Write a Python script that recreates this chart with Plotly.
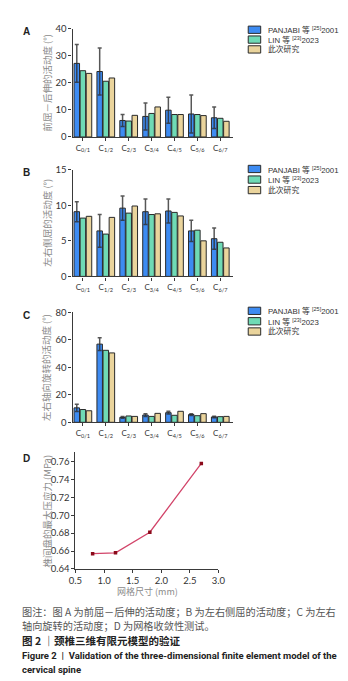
import plotly.graph_objects as go

W, H = 348, 681

segments = ["C<sub>0/1</sub>", "C<sub>1/2</sub>", "C<sub>2/3</sub>", "C<sub>3/4</sub>",
            "C<sub>4/5</sub>", "C<sub>5/6</sub>", "C<sub>6/7</sub>"]
series_names = ["PANJABI 等 <sup>[25]</sup>2001", "LIN 等 <sup>[23]</sup>2023", "此次研究"]
series_colors = ["#3d8bf2", "#6fdab5", "#ead49c"]

# Panel A: flexion-extension
a_panjabi = [27.2, 24.2, 6.1, 7.6, 9.9, 8.5, 7.1]
a_panjabi_err = [7.0, 8.7, 2.2, 5.0, 4.8, 7.0, 4.0]
a_lin = [24.5, 20.6, 5.9, 8.7, 8.3, 8.3, 6.9]
a_this = [23.5, 21.8, 8.0, 11.1, 8.3, 7.9, 5.8]

# Panel B: lateral bending
b_panjabi = [9.1, 6.4, 9.6, 9.1, 9.2, 6.4, 5.3]
b_panjabi_err = [1.4, 2.3, 1.7, 1.8, 1.7, 1.5, 1.5]
b_lin = [8.2, 5.95, 8.9, 8.7, 9.0, 6.5, 4.8]
b_this = [8.45, 8.3, 9.9, 8.8, 8.5, 5.0, 4.0]

# Panel C: axial rotation
c_panjabi = [10.5, 56.9, 3.6, 5.3, 7.0, 5.6, 3.9]
c_panjabi_err = [2.7, 4.6, 0.6, 1.0, 1.0, 0.7, 0.5]
c_lin = [9.3, 52.4, 4.6, 4.3, 5.1, 4.8, 4.1]
c_this = [8.4, 50.5, 4.3, 6.5, 8.0, 6.3, 4.3]

# Panel D: mesh convergence
d_mesh = [0.8, 1.2, 1.8, 2.7]
d_stress = [0.657, 0.658, 0.681, 0.758]

ytitles = ["前屈－后伸的活动度 (°)", "左右侧屈的活动度 (°)", "左右轴向旋转的活动度 (°)"]
yranges = [[0, 40], [0, 15], [0, 80]]
ydtick = [10, 5, 20]
panel_letters = ["A", "B", "C", "D"]

CJK = "Noto Sans CJK SC"
LAT = "Lato, Noto Sans CJK SC"
LEG = "Liberation Sans, Noto Sans CJK SC"

def yp(px):
    return 1 - px / H

def xp(px):
    return px / W

def note(x, y, text, size, color, family=CJK, xanchor="center", angle=0):
    return dict(x=xp(x), y=yp(y), xref="paper", yref="paper", xanchor=xanchor,
                yanchor="middle", text=text, textangle=angle, showarrow=False,
                font=dict(family=family, size=size, color=color))

fig = go.Figure()

bar_boxes = [(15, 125), (158.3, 266.7), (303.3, 415)]
legend_rows = [(16, 26, 36), (157.5, 168.3, 179), (301.7, 312.3, 322.7)]
bar_x0, bar_x1 = 60, 227

panels = [
    (a_panjabi, a_panjabi_err, a_lin, a_this),
    (b_panjabi, b_panjabi_err, b_lin, b_this),
    (c_panjabi, c_panjabi_err, c_lin, c_this),
]

annotations = []
shapes = []
axis_common = dict(showline=True, linecolor="#3a3a3a", linewidth=1.3, ticks="outside",
                   ticklen=3, tickwidth=1.2, tickcolor="#3a3a3a", showgrid=False,
                   zeroline=False, tickfont=dict(family=LAT, size=9.5, color="#333"))

for i, (pj, pje, ln, th) in enumerate(panels):
    k = "" if i == 0 else str(i + 1)
    xa, ya = "x" + k, "y" + k
    vals = [pj, ln, th]
    for s in range(3):
        tr = go.Bar(x=list(range(7)), y=vals[s], name=series_names[s], xaxis=xa, yaxis=ya,
                    marker=dict(color=series_colors[s], line=dict(color="#2a2a2a", width=1)),
                    showlegend=False)
        if s == 0:
            tr.error_y = dict(type="data", array=pje, visible=True, color="rgba(45,45,45,0.8)",
                              thickness=1.5, width=2)
        fig.add_trace(tr)
    top, bot = bar_boxes[i]
    fig.layout["xaxis" + k] = dict(domain=[xp(bar_x0), xp(bar_x1)], anchor=ya,
                                   range=[-0.45, 6.55], tickmode="array",
                                   tickvals=list(range(7)), ticktext=segments,
                                   **{**axis_common, "tickfont": dict(family=LAT, size=8, color="#333")})
    fig.layout["yaxis" + k] = dict(domain=[yp(bot), yp(top)], anchor=xa, range=yranges[i],
                                   dtick=ydtick[i], **axis_common)
    annotations.append(note(33, (top + bot) / 2, ytitles[i], 9.5, "#8a8a8a", angle=-90))
    annotations.append(note(12, top + 3, "<b>" + panel_letters[i] + "</b>", 10, "#222",
                            family="Liberation Sans"))
    for s in range(3):
        ry = legend_rows[i][s]
        shapes.append(dict(type="rect", xref="paper", yref="paper",
                           x0=xp(243), x1=xp(256), y0=yp(ry + 3.7), y1=yp(ry - 3.7),
                           fillcolor=series_colors[s], line=dict(color="#2a2a2a", width=1)))
        annotations.append(note(261, ry + (0.6 if s < 2 else 0), series_names[s], 7.8, "#333",
                                family=LEG, xanchor="left"))

# Panel D
fig.add_trace(go.Scatter(x=d_mesh, y=d_stress, mode="lines+markers", xaxis="x4", yaxis="y4",
                         line=dict(color="#d2456a", width=1.3),
                         marker=dict(symbol="square", size=3.5, color="#8b0a1a"),
                         showlegend=False))
fig.layout["xaxis4"] = dict(domain=[xp(63), xp(212)], anchor="y4", range=[0.5, 3.0],
                            dtick=0.5, tickformat=".1f", **axis_common)
fig.layout["yaxis4"] = dict(domain=[yp(564), yp(445)], anchor="x4", range=[0.64, 0.771],
                            tickvals=[0.64, 0.66, 0.68, 0.70, 0.72, 0.74, 0.76],
                            tickformat=".2f", **axis_common)
annotations.append(note(33, 505, "椎间盘的最大压应力 (MPa)", 9.5, "#8a8a8a", angle=-90))
annotations.append(note(138, 587, "网格尺寸 (mm)", 9, "#8a8a8a"))
annotations.append(note(12, 452, "<b>D</b>", 10, "#222", family="Liberation Sans"))

# caption
caption = [
    (607, "图注：图 A 为前屈－后伸的活动度；B 为左右侧屈的活动度；C 为左右", 10.2, "#555", False, CJK),
    (622, "轴向旋转的活动度；D 为网格收敛性测试。", 10.2, "#555", False, CJK),
    (637, "图 2 ｜颈椎三维有限元模型的验证", 10.5, "#222", True, CJK),
    (652, "Figure 2  |  Validation of the three-dimensional finite element model of the", 9.5, "#222", True, "Roboto"),
    (666, "cervical spine", 9.5, "#222", True, "Roboto"),
]
for y, t, sz, col, bold, fam in caption:
    annotations.append(note(5, y, ("<b>" + t + "</b>") if bold else t, sz, col,
                            family=fam, xanchor="left"))

fig.update_layout(width=W, height=H, margin=dict(l=0, r=0, t=0, b=0),
                  paper_bgcolor="white", plot_bgcolor="white",
                  barmode="group", bargap=0.2, bargroupgap=0.1,
                  annotations=annotations, shapes=shapes, showlegend=False)

fig.write_html("out.html")
